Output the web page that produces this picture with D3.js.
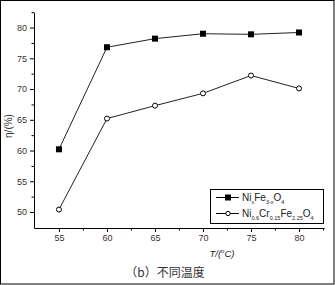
<!DOCTYPE html>
<html><head><meta charset="utf-8">
<script src="https://cdn.jsdelivr.net/npm/d3@7"></script>
<style>body{margin:0;background:#fff}svg{display:block}</style>
</head><body>
<script>
const temps = [55, 60, 65, 70, 75, 80];
const nixFe = [60.2, 76.8, 78.2, 79.0, 78.9, 79.2];
const niCrFe = [50.4, 65.2, 67.3, 69.3, 72.2, 70.1];
const xTicks = [55, 60, 65, 70, 75, 80];
const yTicks = [50, 55, 60, 65, 70, 75, 80];

const W = 335, H = 285;
const svg = d3.select("body").append("svg").attr("width", W).attr("height", H);
svg.append("rect").attr("x", 0.5).attr("y", 0.5).attr("width", W - 1.5).attr("height", H - 1.5)
  .attr("fill", "#fff").attr("stroke", "#000").attr("stroke-width", 1);

const x = d3.scaleLinear().domain([52.4, 82.6]).range([34, 324]);
const y = d3.scaleLinear().domain([47.4, 82.5]).range([228, 12.2]);

const font = "Liberation Sans, Arial, sans-serif";
// x axis
const gx = svg.append("g").attr("transform", "translate(0,228)");
gx.call(d3.axisBottom(x).tickValues(xTicks).tickSize(4).tickSizeOuter(0).tickPadding(3));
const gxm = svg.append("g").attr("transform", "translate(0,228)");
gxm.call(d3.axisBottom(x).tickValues(xTicks.map(v => v + 2.5)).tickSize(2.5).tickSizeOuter(0).tickFormat(""));
gxm.select(".domain").remove();
// y axis
const gy = svg.append("g").attr("transform", "translate(34,0)");
gy.call(d3.axisLeft(y).tickValues(yTicks).tickSize(4).tickSizeOuter(0).tickPadding(3));
const gym = svg.append("g").attr("transform", "translate(34,0)");
gym.call(d3.axisLeft(y).tickValues(yTicks.map(v => v + 2.5)).tickSize(2.5).tickSizeOuter(0).tickFormat(""));
gym.select(".domain").remove();
svg.selectAll(".domain, .tick line").attr("stroke", "#000").attr("stroke-width", 1);
svg.selectAll(".tick text").attr("font-family", font).attr("font-size", 9).attr("fill", "#333");

const line = d3.line().x((d, i) => x(temps[i])).y(d => y(d));
svg.append("path").datum(nixFe).attr("d", line).attr("fill", "none").attr("stroke", "#222").attr("stroke-width", 1);
svg.append("path").datum(niCrFe).attr("d", line).attr("fill", "none").attr("stroke", "#222").attr("stroke-width", 1);

svg.selectAll(".sq").data(nixFe).enter().append("rect")
  .attr("x", (d, i) => x(temps[i]) - 3).attr("y", d => y(d) - 3)
  .attr("width", 6).attr("height", 6).attr("fill", "#000");
svg.selectAll(".ci").data(niCrFe).enter().append("circle")
  .attr("cx", (d, i) => x(temps[i])).attr("cy", d => y(d)).attr("r", 2.5)
  .attr("fill", "#fff").attr("stroke", "#000").attr("stroke-width", 1);

// legend
const lg = svg.append("g");
lg.append("rect").attr("x", 210.5).attr("y", 189.5).attr("width", 113).attr("height", 34)
  .attr("fill", "#fff").attr("stroke", "#000").attr("stroke-width", 1);
const ly1 = 197.5, ly2 = 213.5;
lg.append("line").attr("x1", 216).attr("x2", 239).attr("y1", ly1).attr("y2", ly1).attr("stroke", "#000");
lg.append("rect").attr("x", 225).attr("y", ly1 - 3).attr("width", 6).attr("height", 6).attr("fill", "#000");
lg.append("line").attr("x1", 216).attr("x2", 239).attr("y1", ly2).attr("y2", ly2).attr("stroke", "#000");
lg.append("circle").attr("cx", 228).attr("cy", ly2).attr("r", 2.2).attr("fill", "#fff").attr("stroke", "#000");

function chem(g, xx, yy, parts) {
  const t = g.append("text").attr("x", xx).attr("y", yy).attr("font-family", font).attr("font-size", 10).attr("fill", "#222");
  parts.forEach((p, i) => {
    const prev = parts[i - 1];
    if (p[1]) {
      t.append("tspan").attr("font-size", 5.5).attr("dy", 3).text(p[0]);
    } else {
      t.append("tspan").attr("dy", prev && prev[1] ? -3 : 0).text(p[0]);
    }
  });
}
chem(lg, 242, ly1 + 3.5, [["Ni"], ["x", 1], ["Fe"], ["3-x", 1], ["O"], ["4", 1]]);
chem(lg, 242, ly2 + 3.5, [["Ni"], ["0.6", 1], ["Cr"], ["0.15", 1], ["Fe"], ["2.25", 1], ["O"], ["4", 1]]);

// axis labels
const yl = svg.append("text").attr("transform", "translate(12,126) rotate(-90)").attr("text-anchor", "middle")
  .attr("font-family", font).attr("font-size", 10).attr("fill", "#333");
yl.text("η/(%)");
const xl = svg.append("text").attr("x", 222).attr("y", 257).attr("text-anchor", "middle")
  .attr("font-family", font).attr("font-size", 9.5).attr("font-style", "italic").attr("fill", "#222");
xl.append("tspan").text("T/(");
xl.append("tspan").attr("font-size", 6).attr("dy", -4).text("o");
xl.append("tspan").attr("dy", 4).text("C)");

svg.append("text").attr("x", 165).attr("y", 277).attr("text-anchor", "middle")
  .attr("font-family", "Noto Sans CJK SC, sans-serif").attr("font-size", 12).attr("fill", "#333")
  .text("（b）不同温度");
</script>
</body></html>
